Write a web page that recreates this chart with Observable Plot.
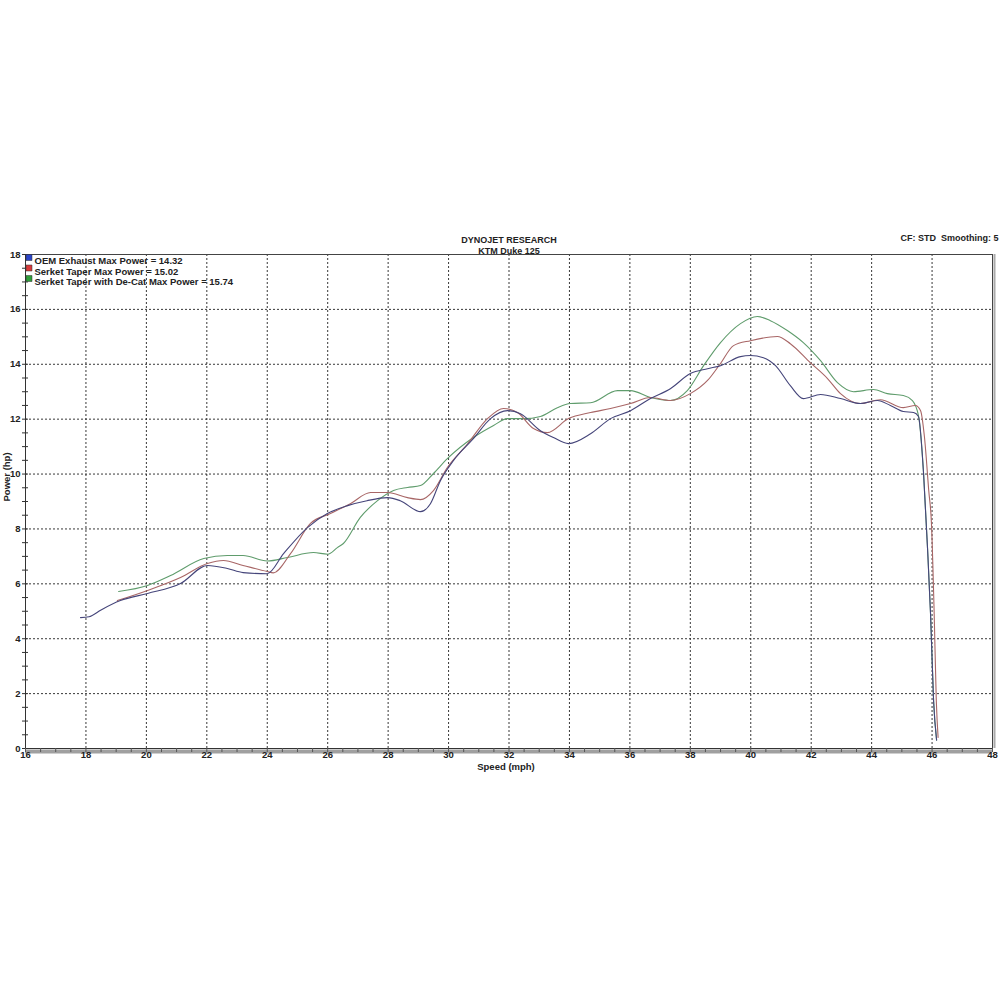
<!DOCTYPE html>
<html><head><meta charset="utf-8">
<script src="https://cdn.jsdelivr.net/npm/d3@7"></script>
<script src="https://cdn.jsdelivr.net/npm/@observablehq/plot@0.6"></script>
<style>body{margin:0;background:#fff} svg{display:block}</style>
</head><body><div id="chart"></div><script>
const titleLines = ["DYNOJET RESEARCH", "KTM Duke 125"];
const settingsText = "CF: STD\u00a0\u00a0Smoothing: 5";
const xLabel = "Speed (mph)";
const yLabel = "Power (hp)";
const xTicks = d3.range(16, 49, 2);
const yTicks = d3.range(0, 19, 2);

const seriesNames = ["OEM Exhaust Max Power = 14.32", "Serket Taper Max Power = 15.02", "Serket Taper with De-Cat Max Power = 15.74"];
const lineColors = ["#45457a", "#a86666", "#5f9c6c"];
const swatchColors = ["#2a44c8", "#d83a3a", "#2f9e3a"];

const oemMph = [17.82, 18.1, 18.5, 19.14, 20.04, 21.13, 22.02, 22.68, 23.2, 24.0, 24.54, 25.33, 25.99, 26.66, 27.3, 27.98, 28.4, 29.07, 29.4, 29.73, 30.16, 30.82, 31.39, 31.95, 32.38, 33.04, 33.47, 33.97, 34.7, 35.36, 36.02, 36.68, 37.34, 38.0, 38.57, 39.0, 39.66, 39.99, 40.42, 40.82, 41.31, 41.74, 42.31, 42.97, 43.63, 44.19, 44.62, 45.05, 45.39, 45.55, 45.72, 45.85, 45.95, 46.05, 46.15];
const oemHp  = [4.77, 4.8, 5.05, 5.39, 5.65, 6.01, 6.67, 6.56, 6.41, 6.37, 7.1, 8.05, 8.56, 8.85, 9.03, 9.14, 9.03, 8.63, 8.92, 9.76, 10.49, 11.29, 12.02, 12.31, 12.2, 11.58, 11.33, 11.11, 11.47, 12.02, 12.31, 12.75, 13.11, 13.66, 13.84, 13.95, 14.28, 14.32, 14.24, 13.95, 13.22, 12.75, 12.9, 12.75, 12.57, 12.68, 12.5, 12.28, 12.24, 12.1, 10.0, 7.3, 4.9, 1.75, 0.3];

const taperMph = [19.04, 20.04, 21.13, 22.02, 22.55, 23.2, 24.0, 24.2, 24.77, 25.43, 26.09, 26.75, 27.42, 27.98, 28.64, 29.07, 29.5, 29.96, 30.63, 31.29, 31.82, 32.28, 32.81, 33.27, 33.97, 34.7, 35.36, 36.02, 36.68, 37.34, 38.0, 38.57, 39.0, 39.43, 39.99, 40.88, 41.31, 41.97, 42.54, 42.97, 43.63, 44.29, 45.05, 45.45, 45.62, 45.75, 45.89, 45.98, 46.07, 46.14, 46.2];
const taperHp  = [5.39, 5.76, 6.23, 6.74, 6.85, 6.67, 6.45, 6.4, 7.1, 8.2, 8.56, 8.92, 9.33, 9.33, 9.14, 9.07, 9.4, 10.24, 11.1, 12.02, 12.39, 12.24, 11.66, 11.51, 12.02, 12.24, 12.39, 12.57, 12.79, 12.68, 12.93, 13.41, 14.03, 14.68, 14.86, 15.01, 14.75, 14.06, 13.48, 12.93, 12.57, 12.71, 12.42, 12.5, 12.31, 11.33, 9.4, 8.2, 4.92, 1.75, 0.4];

const decatMph = [19.08, 20.04, 20.8, 21.9, 22.68, 23.2, 24.0, 24.67, 25.53, 26.0, 26.32, 26.52, 27.08, 27.65, 28.18, 28.64, 29.07, 29.5, 29.96, 30.82, 31.49, 31.95, 32.48, 33.04, 33.6, 34.03, 34.7, 35.59, 36.02, 36.68, 37.34, 37.9, 38.44, 39.0, 39.66, 40.22, 40.65, 41.21, 41.74, 42.31, 42.87, 43.4, 44.06, 44.52, 45.05, 45.35, 45.55, 45.72, 45.85, 45.95, 46.05, 46.15];
const decatHp  = [5.72, 5.94, 6.3, 6.92, 7.03, 7.03, 6.83, 6.96, 7.14, 7.08, 7.32, 7.47, 8.42, 9.03, 9.4, 9.51, 9.58, 10.02, 10.56, 11.33, 11.77, 12.02, 12.02, 12.1, 12.42, 12.57, 12.6, 13.04, 13.04, 12.79, 12.68, 13.04, 13.95, 14.79, 15.48, 15.74, 15.59, 15.23, 14.79, 14.13, 13.33, 13.0, 13.08, 12.93, 12.86, 12.68, 12.13, 10.0, 7.3, 4.9, 1.75, 0.3];

const seriesMph = [oemMph, taperMph, decatMph];
const seriesHp = [oemHp, taperHp, decatHp];
const seriesData = seriesMph.map((xs, i) => xs.map((x, j) => ({x, y: seriesHp[i][j]})));

const font = "'Liberation Sans', Arial, sans-serif";
const drawOrder = [2, 1, 0];

const chart = Plot.plot({
  width: 1000, height: 1000,
  marginLeft: 25, marginRight: 8, marginTop: 254, marginBottom: 252,
  style: {fontFamily: font, background: "#fff", color: "#222"},
  x: {domain: [16, 48]},
  y: {domain: [0, 18]},
  marks: [
    Plot.gridX(xTicks.filter(d => d > 16 && d < 48), {stroke: "#222", strokeOpacity: 0.9, strokeDasharray: "2,2"}),
    Plot.gridY(yTicks.filter(d => d > 0 && d < 18), {stroke: "#222", strokeOpacity: 0.9, strokeDasharray: "2,2"}),
    Plot.ruleX([48], {stroke: "#aaa", strokeWidth: 2, dx: 2}),
    Plot.ruleX([48], {stroke: "#444"}),
    Plot.ruleY([18], {stroke: "#444"}),
    Plot.ruleY([0], {stroke: "#a0a0a0", strokeWidth: 4, dy: 3}),
    Plot.ruleY([0], {stroke: "#333"}),
    Plot.ruleX([16], {stroke: "#333"}),
    Plot.axisY({ticks: d3.range(0, 18.01, 0.5), tickSize: 6, dx: 3, tickFormat: () => "", label: null, stroke: "#333"}),
    Plot.axisY({ticks: yTicks, tickSize: 0, tickPadding: 5, fontSize: 9.5, fontWeight: "bold", label: null}),
    Plot.axisX({ticks: d3.range(16, 48.01, 0.5), tickSize: 4, tickFormat: () => "", label: null, stroke: "#555"}),
    Plot.axisX({ticks: xTicks, tickSize: 0, tickPadding: 3, fontSize: 9.5, fontWeight: "bold", label: null}),
    ...drawOrder.map(i => Plot.line(seriesData[i], {x: "x", y: "y", stroke: lineColors[i], strokeWidth: 1.1, curve: "monotone-x"})),
    ...seriesNames.map((name, i) => Plot.dot([name], {frameAnchor: "top-left", dx: 3.5, dy: 3 + i * 10.5, symbol: "square", r: 3.4, fill: swatchColors[i], stroke: "#333", strokeWidth: 0.5})),
    ...seriesNames.map((name, i) => Plot.text([name], {text: d => d, frameAnchor: "top-left", dx: 9, dy: 3 + i * 10.5, textAnchor: "start", fontSize: 9.5, fontWeight: "bold", fill: "#222"})),
    ...titleLines.map((t, i) => Plot.text([t], {text: d => d, frameAnchor: "top", dy: -18 + i * 11, fontSize: 9, fontWeight: "bold", fill: "#222"})),
    Plot.text([settingsText], {text: d => d, frameAnchor: "top-right", dx: 6, dy: -20, textAnchor: "end", fontSize: 9, fontWeight: "bold", fill: "#222"}),
    Plot.text([yLabel], {text: d => d, frameAnchor: "left", dx: -19, rotate: -90, fontSize: 9.5, fontWeight: "bold", fill: "#222"}),
    Plot.text([xLabel], {text: d => d, frameAnchor: "bottom", dx: -3, dy: 21, fontSize: 9.5, fontWeight: "bold", fill: "#222"})
  ]
});
document.getElementById("chart").appendChild(chart);
</script></body></html>
